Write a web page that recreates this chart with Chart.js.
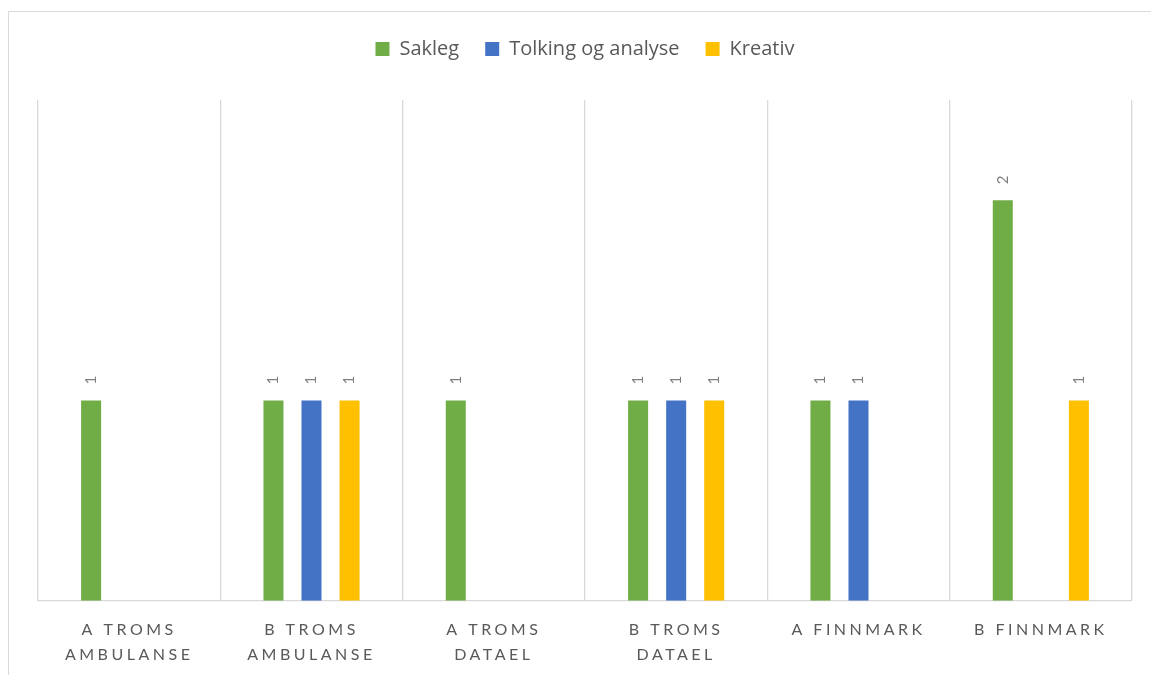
<!DOCTYPE html>
<html>
<head>
<meta charset="utf-8">
<script src="https://cdn.jsdelivr.net/npm/chart.js@4"></script>
<style>
    html, body { margin: 0; padding: 0; background: #ffffff; overflow: hidden; }
    #frame {
        position: absolute; left: 8px; top: 11px; width: 1200px; height: 700px;
        border-left: 1.5px solid #d9d9d9; border-top: 1.5px solid #d9d9d9;
    }
    #wrap { position: absolute; left: 0; top: 0; width: 1151px; height: 675px; }
</style>
</head>
<body>
<div id="frame"></div>
<div id="wrap"><canvas id="myChart"></canvas></div>
<script>
const categories = [
    ['A TROMS', 'AMBULANSE'],
    ['B TROMS', 'AMBULANSE'],
    ['A TROMS', 'DATAEL'],
    ['B TROMS', 'DATAEL'],
    ['A FINNMARK'],
    ['B FINNMARK']
];
const sakleg = [1, 1, 1, 1, 1, 2];
const tolking = [null, 1, null, 1, 1, null];
const kreativ = [null, 1, null, 1, null, 1];

// rotated value labels above each bar
const valueLabels = {
    id: 'valueLabels',
    afterDatasetsDraw(chart) {
        const ctx = chart.ctx;
        ctx.save();
        ctx.fillStyle = '#7f7f7f';
        ctx.font = '15px Lato';
        ctx.textAlign = 'left';
        ctx.textBaseline = 'middle';
        chart.data.datasets.forEach((ds, i) => {
            chart.getDatasetMeta(i).data.forEach((bar, j) => {
                if (ds.data[j] == null) return;
                ctx.save();
                ctx.translate(bar.x, bar.y - 16);
                ctx.rotate(-Math.PI / 2);
                ctx.fillText(String(ds.data[j]), 0, 0);
                ctx.restore();
            });
        });
        ctx.restore();
    }
};

// spaced-out category labels like the original, and a taller legend box
const tweaks = {
    id: 'tweaks',
    afterInit(chart) {
        const fit = chart.legend.fit;
        chart.legend.fit = function () {
            fit.call(this);
            this.height = 87;
        };
    },
    afterLayout(chart) {
        const x = chart.scales.x;
        if (x._spaced) return;
        const draw = x.drawLabels;
        x.drawLabels = function (area) {
            const ctx = this.ctx;
            ctx.save();
            ctx.letterSpacing = '3.5px';
            draw.call(this, area);
            ctx.restore();
        };
        x._spaced = true;
    }
};

new Chart(document.getElementById('myChart'), {
    type: 'bar',
    data: {
        labels: categories,
        datasets: [
            { label: 'Sakleg', data: sakleg, backgroundColor: '#70ad47' },
            { label: 'Tolking og analyse', data: tolking, backgroundColor: '#4472c4' },
            { label: 'Kreativ', data: kreativ, backgroundColor: '#ffc000' }
        ]
    },
    options: {
        responsive: true,
        maintainAspectRatio: false,
        animation: false,
        datasets: {
            bar: { categoryPercentage: 0.626, barPercentage: 0.526 }
        },
        layout: { padding: { top: 13, left: 38, right: 19, bottom: -9 } },
        plugins: {
            legend: {
                position: 'top',
                labels: {
                    boxWidth: 14,
                    boxHeight: 14,
                    padding: 26,
                    color: '#595959',
                    font: { size: 20, family: 'Open Sans' }
                }
            },
            tooltip: { enabled: false }
        },
        scales: {
            x: {
                grid: { offset: true, color: '#d9d9d9', lineWidth: 1.3, drawTicks: false },
                border: { display: true, color: '#d9d9d9', width: 1.3 },
                ticks: {
                    color: '#595959',
                    font: { size: 16, family: 'Lato', lineHeight: 1.6 },
                    padding: 16,
                    maxRotation: 0,
                    autoSkip: false
                }
            },
            y: {
                display: false,
                min: 0,
                max: 2.5
            }
        }
    },
    plugins: [valueLabels, tweaks]
});
</script>
</body>
</html>
